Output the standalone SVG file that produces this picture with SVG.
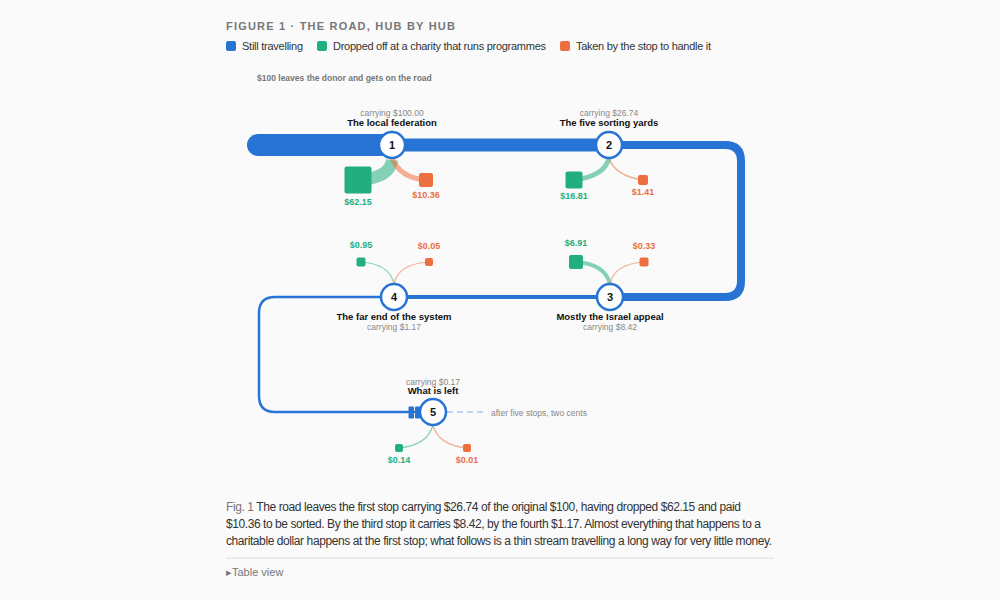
<svg xmlns="http://www.w3.org/2000/svg" width="1000" height="600" viewBox="0 0 1000 600">
<style>
text{font-family:"Liberation Sans",Arial,sans-serif}
.road{fill:none;stroke:#2874d4;stroke-linejoin:round}
.node circle{fill:#fff;stroke:#2874d4;stroke-width:2.5}
.num{font-size:11px;font-weight:bold;fill:#111;text-anchor:middle}
.ttl{font-size:9.5px;font-weight:bold;fill:#111;text-anchor:middle}
.car{font-size:8.5px;fill:#888;text-anchor:middle}
.g{fill:#22ae7e}.o{fill:#ec6f3f}
.gl{fill:none;stroke:#22ae7e;stroke-opacity:.55}
.ol{fill:none;stroke:#ec6f3f;stroke-opacity:.55}
.gv{font-size:9px;font-weight:bold;fill:#22ae7e;text-anchor:middle}
.ov{font-size:9px;font-weight:bold;fill:#ec6f3f;text-anchor:middle}
.cap{font-size:12px;fill:#333}
.leg{font-size:11px;fill:#333}
</style>
<rect width="1000" height="600" fill="#fafafa"/>
<text x="226" y="30" font-size="11" font-weight="bold" fill="#777" letter-spacing="1.2">FIGURE 1 · THE ROAD, HUB BY HUB</text>
<rect x="226" y="41" width="10" height="10" rx="2" fill="#2874d4"/><text class="leg" x="242" y="50" textLength="61">Still travelling</text>
<rect x="317" y="41" width="10" height="10" rx="2" class="g"/><text class="leg" x="333" y="50" textLength="213">Dropped off at a charity that runs programmes</text>
<rect x="560" y="41" width="10" height="10" rx="2" class="o"/><text class="leg" x="576" y="50" textLength="135">Taken by the stop to handle it</text>
<text x="257" y="81" font-size="8.5" font-weight="bold" fill="#777">$100 leaves the donor and gets on the road</text>
<g id="connectors">
<path class="road" d="M258 145 H392" stroke-width="22" stroke-linecap="round"/>
<path class="road" d="M392 145 H609" stroke-width="13"/>
<path class="road" d="M609 145 H725 Q741 145 741 161 V281 Q741 297 725 297 H610" stroke-width="8"/>
<path class="road" d="M610 297 H394" stroke-width="4"/>
<path class="road" d="M394 297 H275 Q259 297 259 313 V396 Q259 412 275 412 H420" stroke-width="2.5"/>
<path d="M447 412 H487" stroke="#a9c8ee" stroke-width="1.5" stroke-dasharray="6 4"/>
<path class="gl" d="M392 160 Q390 178 358 180" stroke-width="12"/>
<path class="ol" d="M392 158 Q400 178 426 180" stroke-width="5"/>
<path class="gl" d="M609 158 Q605 176 574 180" stroke-width="5"/>
<path class="ol" d="M609 158 Q615 176 643 180" stroke-width="1.5"/>
<path class="gl" d="M610 284 Q605 264 576 262" stroke-width="4"/>
<path class="ol" d="M610 284 Q614 264 644 262" stroke-width="1.2"/>
<path class="gl" d="M394 284 Q390 264 361 262" stroke-width="1.2"/>
<path class="ol" d="M394 284 Q398 264 429 262" stroke-width="1.2"/>
<path class="gl" d="M433 425 Q428 445 399 448" stroke-width="1.2"/>
<path class="ol" d="M433 425 Q438 445 467 448" stroke-width="1.2"/>
</g>
<g id="n1" class="node"><text class="car" x="392" y="116">carrying $100.00</text><text class="ttl" x="392" y="126">The local federation</text><circle cx="392" cy="145" r="13"/><text class="num" x="392" y="149">1</text>
<rect x="344.5" y="166.5" width="27" height="27" rx="2" class="g"/><rect x="419" y="173" width="14" height="14" rx="2" class="o"/><text class="gv" x="358" y="205">$62.15</text><text class="ov" x="426" y="198">$10.36</text></g>
<g id="n2" class="node"><text class="car" x="609" y="116">carrying $26.74</text><text class="ttl" x="609" y="126">The five sorting yards</text><circle cx="609" cy="145" r="13"/><text class="num" x="609" y="149">2</text>
<rect x="565.5" y="171.5" width="17" height="17" rx="2" class="g"/><rect x="638" y="175" width="10" height="10" rx="2" class="o"/><text class="gv" x="574" y="199">$16.81</text><text class="ov" x="643" y="195">$1.41</text></g>
<g id="n3" class="node"><circle cx="610" cy="297" r="13"/><text class="num" x="610" y="301">3</text><text class="ttl" x="610" y="320">Mostly the Israel appeal</text><text class="car" x="610" y="330">carrying $8.42</text>
<rect x="569" y="255" width="14" height="14" rx="2" class="g"/><rect x="639.5" y="257.5" width="9" height="9" rx="2" class="o"/><text class="gv" x="576" y="246">$6.91</text><text class="ov" x="644" y="249">$0.33</text></g>
<g id="n4" class="node"><circle cx="394" cy="297" r="13"/><text class="num" x="394" y="301">4</text><text class="ttl" x="394" y="320">The far end of the system</text><text class="car" x="394" y="330">carrying $1.17</text>
<rect x="356.5" y="257.5" width="9" height="9" rx="2" class="g"/><rect x="425" y="258" width="8" height="8" rx="2" class="o"/><text class="gv" x="361" y="248">$0.95</text><text class="ov" x="429" y="249">$0.05</text></g>
<g id="n5" class="node"><text class="car" x="433" y="385">carrying $0.17</text><text class="ttl" x="433" y="394">What is left</text>
<g fill="#2874d4"><rect x="408.5" y="406.5" width="5.5" height="5.5" rx="1"/><rect x="415" y="406.5" width="5.5" height="5.5" rx="1"/><rect x="408.5" y="413" width="5.5" height="5.5" rx="1"/><rect x="415" y="413" width="5.5" height="5.5" rx="1"/></g>
<circle cx="433" cy="412" r="13"/><text class="num" x="433" y="416">5</text>
<rect x="395" y="444" width="8" height="8" rx="2" class="g"/><rect x="463" y="444" width="8" height="8" rx="2" class="o"/><text class="gv" x="399" y="463">$0.14</text><text class="ov" x="467" y="463">$0.01</text></g>
<text x="491" y="416" font-size="8.5" fill="#888">after five stops, two cents</text>
<text class="cap" x="226" y="511" textLength="515"><tspan fill="#777">Fig. 1</tspan> The road leaves the first stop carrying $26.74 of the original $100, having dropped $62.15 and paid</text>
<text class="cap" x="226" y="528" textLength="535">$10.36 to be sorted. By the third stop it carries $8.42, by the fourth $1.17. Almost everything that happens to a</text>
<text class="cap" x="226" y="545" textLength="546">charitable dollar happens at the first stop; what follows is a thin stream travelling a long way for very little money.</text>
<line x1="226" y1="558" x2="774" y2="558" stroke="#ddd"/>
<text x="226" y="576" font-size="11" fill="#777">▸Table view</text>
</svg>
